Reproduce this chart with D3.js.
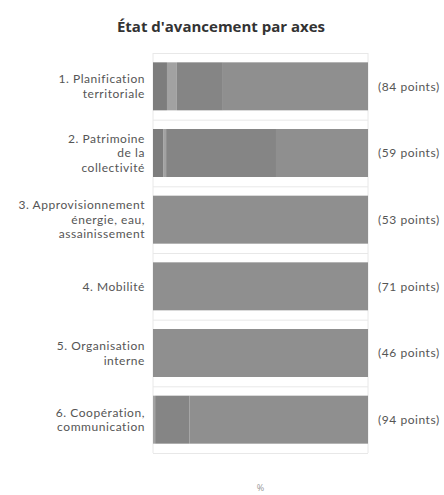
<!DOCTYPE html>
<meta charset="utf-8">
<style>
body { margin: 0; background: #fff; }
text { font-family: "Open Sans", sans-serif; }
.title { font-size: 15px; font-weight: bold; fill: #333; }
.cat, .pts { font-family: Lato, sans-serif; font-size: 12px; fill: #555; letter-spacing: 0.55px; }
.grid line { stroke: #e8e8e8; stroke-width: 1px; }
</style>
<body>
<script src="https://d3js.org/d3.v7.min.js"></script>
<script>

// axes (categories), one line per array entry
var categories = [
  ["1. Planification", "territoriale"],
  ["2. Patrimoine", "de la", "collectivité"],
  ["3. Approvisionnement", "énergie, eau,", "assainissement"],
  ["4. Mobilité"],
  ["5. Organisation", "interne"],
  ["6. Coopération,", "communication"]
];
var points = [84, 59, 53, 71, 46, 94];

// stacked shares (%) of each state
var seriesA = [6.5, 4.7, 0, 0, 0, 0];
var seriesB = [4.6, 1.4, 0, 0, 0, 1];
var seriesC = [21.4, 51.1, 0, 0, 0, 16];
var seriesD = [67.5, 42.8, 100, 100, 100, 83];
var seriesKeys = ["a", "b", "c", "d"];
var seriesColors = ["#7d7d7d", "#a2a2a2", "#858585", "#8f8f8f"];

var W = 444, H = 495;
var margin = {top: 53, right: 76, bottom: 42, left: 153};
var width = W - margin.left - margin.right,
    height = H - margin.top - margin.bottom;

var svg = d3.select("body").append("svg")
    .attr("width", W)
    .attr("height", H);

svg.append("text")
    .attr("class", "title")
    .attr("x", 221)
    .attr("y", 32)
    .attr("text-anchor", "middle")
    .text("État d'avancement par axes");

var g = svg.append("g")
    .attr("transform", "translate(" + margin.left + "," + margin.top + ")");

var rows = categories.map(function(c, i) {
  return {i: i, a: seriesA[i], b: seriesB[i], c: seriesC[i], d: seriesD[i]};
});

var x = d3.scaleLinear().domain([0, 100]).range([0, width]);
var y = d3.scaleBand().domain(d3.range(categories.length)).range([0, height])
    .paddingInner(0.28).paddingOuter(0.14);
var color = d3.scaleOrdinal().domain(seriesKeys).range(seriesColors);

// faint row lines
var grid = g.append("g").attr("class", "grid");
var bounds = d3.range(categories.length + 1).map(function(k) { return k * y.step(); });
grid.selectAll("line.h")
    .data(bounds)
  .enter().append("line")
    .attr("class", "h")
    .attr("x1", 0).attr("x2", width)
    .attr("y1", function(d) { return d + 0.5; })
    .attr("y2", function(d) { return d + 0.5; });
grid.selectAll("line.v")
    .data([0, 100])
  .enter().append("line")
    .attr("class", "v")
    .attr("x1", function(d) { return x(d); })
    .attr("x2", function(d) { return x(d); })
    .attr("y1", 0).attr("y2", height);

var stack = d3.stack().keys(seriesKeys)(rows);

g.selectAll("g.layer")
    .data(stack)
  .enter().append("g")
    .attr("class", "layer")
    .attr("fill", function(d) { return color(d.key); })
  .selectAll("rect")
    .data(function(d) { return d; })
  .enter().append("rect")
    .attr("x", function(d) { return x(d[0]); })
    .attr("width", function(d) { return x(d[1]) - x(d[0]); })
    .attr("y", function(d) { return y(d.data.i); })
    .attr("height", y.bandwidth());

// category labels
var lh = 14.6;
var cat = g.selectAll("text.cat")
    .data(categories)
  .enter().append("text")
    .attr("class", "cat")
    .attr("text-anchor", "end")
    .attr("transform", function(d, i) {
      return "translate(-8," + (y(i) + y.bandwidth() / 2) + ")";
    });
cat.selectAll("tspan")
    .data(function(d) { return d.map(function(t, k) { return {t: t, k: k, n: d.length}; }); })
  .enter().append("tspan")
    .attr("x", 0)
    .attr("y", function(d) { return (d.k - (d.n - 1) / 2) * lh; })
    .attr("dy", "0.35em")
    .text(function(d) { return d.t; });

// points labels
g.selectAll("text.pts")
    .data(points)
  .enter().append("text")
    .attr("class", "pts")
    .attr("x", width + 10)
    .attr("y", function(d, i) { return y(i) + y.bandwidth() / 2; })
    .attr("dy", "0.35em")
    .text(function(d) { return "(" + d + " points)"; });

// axis label
svg.append("text")
    .attr("x", margin.left + width / 2)
    .attr("y", 491)
    .attr("text-anchor", "middle")
    .style("font-size", "9px")
    .style("fill", "#999")
    .text("%");

</script>
</body>
